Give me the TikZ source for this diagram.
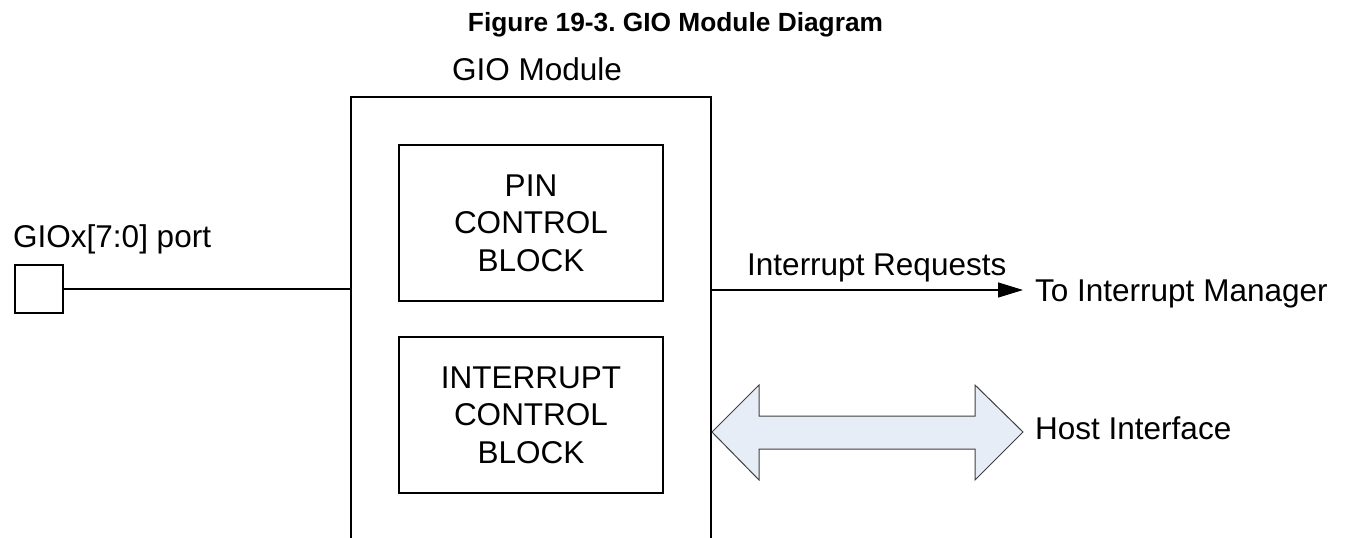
\documentclass[tikz,border=0pt]{standalone}
\usepackage{fontspec}
\setmainfont{Liberation Sans}
\usetikzlibrary{arrows.meta}
\definecolor{arrowfill}{RGB}{231,237,247}
\definecolor{arrowline}{RGB}{64,64,64}
\frenchspacing
\begin{document}
\begin{tikzpicture}[x=1pt,y=-1pt,
  lbl/.style={font=\fontsize{31.5}{37.5}\selectfont, inner sep=0pt},
  blockbox/.style={draw, line width=1.4pt, minimum width=264pt, minimum height=156pt, align=center, inner sep=0pt, font=\fontsize{31.5}{37.5}\selectfont},
  conn/.style={line width=1.3pt}]
\useasboundingbox (0,0) rectangle (1347,538);
% title
\node[anchor=base, inner sep=0pt, font=\fontsize{26.3}{30}\selectfont\bfseries] (title) at (675.5,31) {Figure 19-3.\ GIO Module Diagram};
% module label
\node[lbl, anchor=base] (modlbl) at (537,80) {GIO Module};
% main module box (open at the bottom)
\draw[line width=1.4pt] (351,545) -- (351,97) -- (711,97) -- (711,545);
\coordinate (mbL) at (351,289);
\coordinate (mbR) at (711,290);
% inner blocks
\node[blockbox] (pin) at (531,223) {PIN\\CONTROL\\BLOCK};
\node[blockbox] (intc) at (531,415) {INTERRUPT\\CONTROL\\BLOCK};
% port
\node[draw, line width=1.3pt, minimum size=48pt, inner sep=0pt] (port) at (39,289) {};
\node[lbl, anchor=base west] (portlbl) at (13,247) {GIOx[7:0] port};
\draw[conn] (port.east) -- (mbL);
% interrupt requests
\node[lbl, anchor=base west] (irq) at (747,275) {Interrupt Requests};
\node[lbl, anchor=base west] (mgr) at (1035,301) {To Interrupt Manager};
\coordinate (irqEnd) at (1023,290);
\draw[conn, -{Triangle[length=25pt,width=15pt]}] (mbR) -- (irqEnd);
% host interface double arrow
\draw[fill=arrowfill, draw=arrowline, line width=1pt]
  (712,432) -- (759,385) -- (759,416) -- (975,416) -- (975,385) -- (1023,432)
  -- (975,480) -- (975,449) -- (759,449) -- (759,480) -- cycle;
\node[lbl, anchor=base west] (host) at (1035,439) {Host Interface};
\end{tikzpicture}
\end{document}
